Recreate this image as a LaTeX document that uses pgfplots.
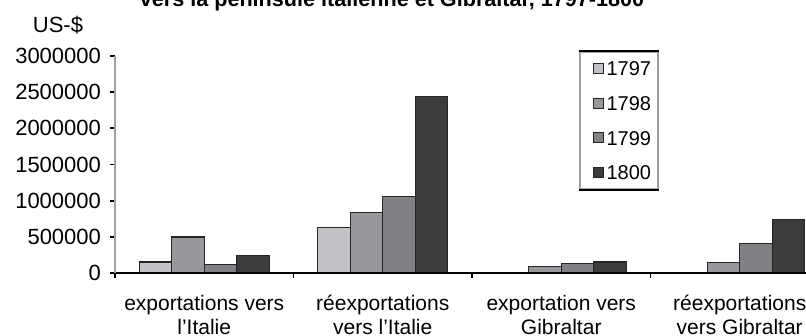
\documentclass[border=0pt]{standalone}
\usepackage{fontspec}
\setmainfont{Liberation Sans}
\usepackage{pgfplots}
\pgfplotsset{compat=1.18}

\definecolor{yA}{RGB}{193,194,198}
\definecolor{yB}{RGB}{152,152,156}
\definecolor{yC}{RGB}{128,129,133}
\definecolor{yD}{RGB}{60,60,60}
\definecolor{edge}{RGB}{38,38,38}
\definecolor{yaxis}{RGB}{160,160,164}

\begin{document}
\begin{tikzpicture}
\useasboundingbox (0pt,0pt) rectangle (403pt,168pt);
\clip (0pt,0pt) rectangle (403pt,168pt);

\node[anchor=base, font=\fontsize{10.8}{13}\selectfont\bfseries]
  at (196pt,164.5pt) {vers la péninsule italienne et Gibraltar, 1797-1800};
\node[font=\fontsize{11}{13}\selectfont] at (29pt,155.5pt) {US-\$};

\begin{axis}[
  at={(57.5pt,31.5pt)}, anchor=south west,
  scale only axis, width=357pt, height=108.5pt,
  ybar=0pt, bar width=16.25pt,
  xmin=-0.5, xmax=3.5, ymin=0, ymax=3000000,
  axis x line*=bottom, axis y line*=left,
  axis line style={-},
  x axis line style={black, line width=1pt},
  y axis line style={yaxis, line width=1pt},
  axis on top,
  tick align=outside,
  major tick length=2.5pt,
  tick style={black, line width=0.9pt},
  ytick={0,500000,1000000,1500000,2000000,2500000,3000000},
  scaled y ticks=false,
  /pgf/number format/assume math mode=true,
  yticklabel style={/pgf/number format/fixed, /pgf/number format/1000 sep={},
    font=\fontsize{11}{13}\selectfont, xshift=-1pt},
  xtick={-0.5,0.5,1.5,2.5,3.5},
  xticklabels={},
  extra x ticks={0,1,2,3},
  extra x tick labels={{exportations vers\\l'Italie},{réexportations\\vers l'Italie},{exportation vers\\Gibraltar},{réexportations\\vers Gibraltar}},
  extra x tick style={major tick length=0pt,
    xticklabel style={align=center, font=\fontsize{10.5}{12}\selectfont, yshift=-7.5pt}},
  legend style={name=leg, at={(0.6499,1.023)}, anchor=north west,
    draw=yaxis, line width=1pt,
    font=\fontsize{10}{11}\selectfont,
    inner xsep=3pt, inner ysep=4pt, row sep=9.2pt, column sep=1pt,
    nodes={inner sep=0.5pt, text height=7.2pt, text depth=0pt}},
  legend cell align=left,
  legend image code/.code={%
    \path[draw=none, fill=none] (0pt,-2.5pt) rectangle (8.5pt,2.5pt);
    \draw[#1, draw=edge, line width=0.5pt] (3.5pt,-2.5pt) rectangle (8.5pt,2.5pt);},
]
\addplot[fill=yA, draw=edge, line width=0.7pt] coordinates {(0,150000) (1,628000) (2,10000) (3,0)};
\addplot[fill=yB, draw=edge, line width=0.7pt] coordinates {(0,495000) (1,838000) (2,88000) (3,148000)};
\addplot[fill=yC, draw=edge, line width=0.7pt] coordinates {(0,115000) (1,1060000) (2,134000) (3,410000)};
\addplot[fill=yD, draw=edge, line width=0.7pt] coordinates {(0,240000) (1,2440000) (2,152000) (3,742000)};
\legend{1797,1798,1799,1800}
\end{axis}
\draw[black, line width=1pt] (leg.north west) -- (leg.north east);
\draw[black, line width=1pt] (leg.south west) -- (leg.south east);
\end{tikzpicture}
\end{document}
